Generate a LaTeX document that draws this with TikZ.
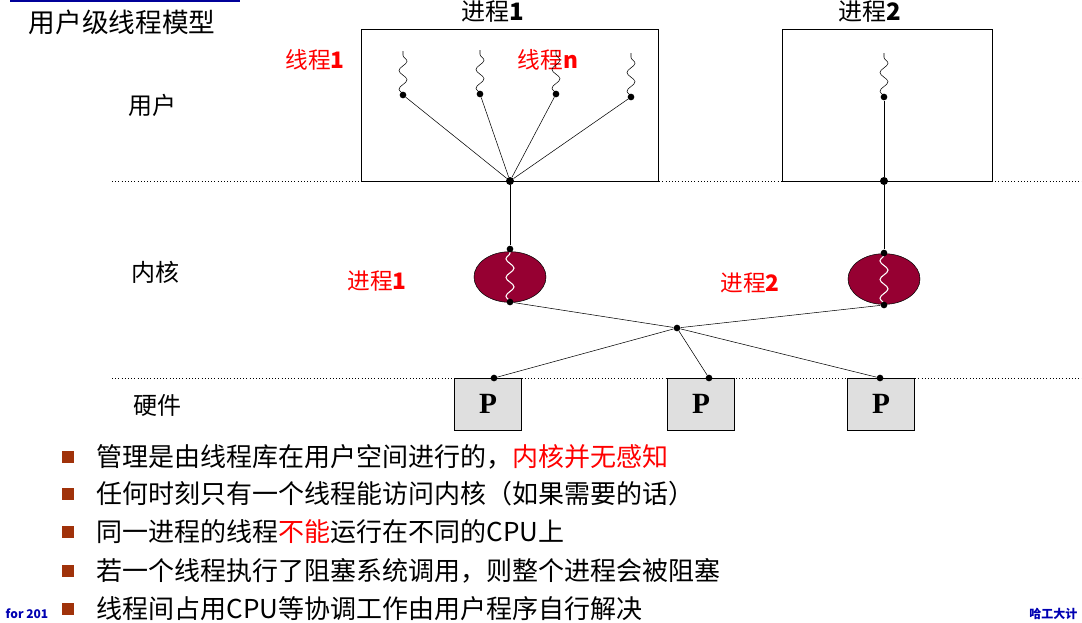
\documentclass[tikz,border=0pt]{standalone}
\usepackage{fontspec}
\setmainfont{Noto Sans CJK SC}
\newfontfamily\pfont{Liberation Serif}
\usetikzlibrary{decorations.pathmorphing,shapes.geometric}
\definecolor{maroon}{RGB}{150,0,50}
\definecolor{bulletbrown}{RGB}{160,50,10}
\begin{document}
\begin{tikzpicture}[x=0.75pt,y=-0.75pt]
\tikzstyle{label}=[font=\fontsize{18}{20}\selectfont]
\tikzstyle{redlabel}=[font=\fontsize{17}{19}\selectfont,text=red]
\tikzstyle{dot}=[circle,fill=black,inner sep=0pt,minimum size=6pt]
\tikzstyle{thread}=[decorate,decoration={snake,amplitude=3pt,segment length=14pt}]
\tikzstyle{proc}=[ellipse,draw,fill=maroon,minimum width=54pt,minimum height=38pt,inner sep=0pt]
\tikzstyle{cpu}=[draw,fill=gray!25,minimum width=50pt,minimum height=39pt,inner sep=0pt,
  font=\pfont\bfseries\fontsize{22}{24}\selectfont]
\tikzstyle{bullet}=[fill=bulletbrown,minimum size=9pt,inner sep=0pt]
\useasboundingbox (0,0) rectangle (1082,622);

%title
\draw[blue!60!black,line width=1pt] (10,1) -- (240,1);
\node[font=\fontsize{20}{22}\selectfont] (title) at (122,22) {用户级线程模型};

%layers
\draw[dotted] (112,181) -- (1082,181);
\draw[dotted] (112,378) -- (1082,378);
\node[label] (user) at (152,105) {用户};
\node[label] (kernel) at (155,272) {内核};
\node[label] (hw) at (157,405) {硬件};

%process boxes
\draw (361,29) rectangle (658,181);
\draw (782,29) rectangle (992,181);
\node[label] (p1name) at (493,12) {进程\textbf{1}};
\node[label] (p2name) at (870,12) {进程\textbf{2}};
\node[redlabel] (t1) at (315,60) {线程\textbf{1}};
\node[redlabel] (tn) at (548,60) {线程\textbf{n}};

%threads
\node[dot] (hub1) at (510,181) {};
\node[dot] (hub2) at (884,181) {};
\foreach \name/\x/\y in {ta/403/95,tb/480/94,tc/556/94,td/631/97}{
  \node[dot,minimum size=5pt] (\name) at (\x,\y) {};
  \draw[thread] (\name.center) -- ++(0,-44);
  \draw (\name) -- (hub1);
}
\node[dot,minimum size=5pt] (te) at (884,97) {};
\draw[thread] (te.center) -- ++(0,-44);
\draw (te) -- (hub2);

%kernel processes
\node[proc] (k1) at (510,277) {};
\node[proc] (k2) at (884,279) {};
\draw[white,thick,thread] (510,302) -- (510,251);
\draw[white,thick,thread] (884,304) -- (884,254);
\node[dot,minimum size=5pt] (k1top) at (510,249) {};
\node[dot,minimum size=5pt] (k1bot) at (510,302) {};
\node[dot,minimum size=5pt] (k2top) at (884,253) {};
\node[dot,minimum size=5pt] (k2bot) at (884,305) {};
\draw (hub1) -- (k1top);
\draw (hub2) -- (k2top);
\node[redlabel] (k1name) at (377,281) {进程\textbf{1}};
\node[redlabel] (k2name) at (750,283) {进程\textbf{2}};

%processors
\node[dot,minimum size=5pt] (cross) at (677,328) {};
\node[cpu] (cpua) at (488,404) {P};
\node[cpu] (cpub) at (701,404) {P};
\node[cpu] (cpuc) at (881,404) {P};
\node[dot,minimum size=5pt] (ca) at (494,378) {};
\node[dot,minimum size=5pt] (cb) at (709,378) {};
\node[dot,minimum size=5pt] (cc) at (880,378) {};
\draw (k1bot) -- (cross);
\draw (k2bot) -- (cross);
\foreach \c in {ca,cb,cc} \draw (cross) -- (\c);

%notes
\foreach \y/\txt in {457/{管理是由线程库在用户空间进行的，\textcolor{red}{内核并无感知}},
  494/{任何时刻只有一个线程能访问内核（如果需要的话）},
  532/{同一进程的线程\textcolor{red}{不能}运行在不同的CPU上},
  571/{若一个线程执行了阻塞系统调用，则整个进程会被阻塞},
  609/{线程间占用CPU等协调工作由用户程序自行解决}}{
  \node[bullet] at (68,\y) {};
  \node[anchor=west,font=\fontsize{19.5}{21}\selectfont] at (92,\y) {\txt};
}
\node[font=\fontsize{9}{10}\selectfont\bfseries,text=blue!70!black] (foot1) at (27,614) {for 201};
\node[anchor=east,font=\fontsize{9}{10}\selectfont\bfseries,text=blue!70!black] (foot2) at (1082,614) {哈工大计};
\end{tikzpicture}
\end{document}
